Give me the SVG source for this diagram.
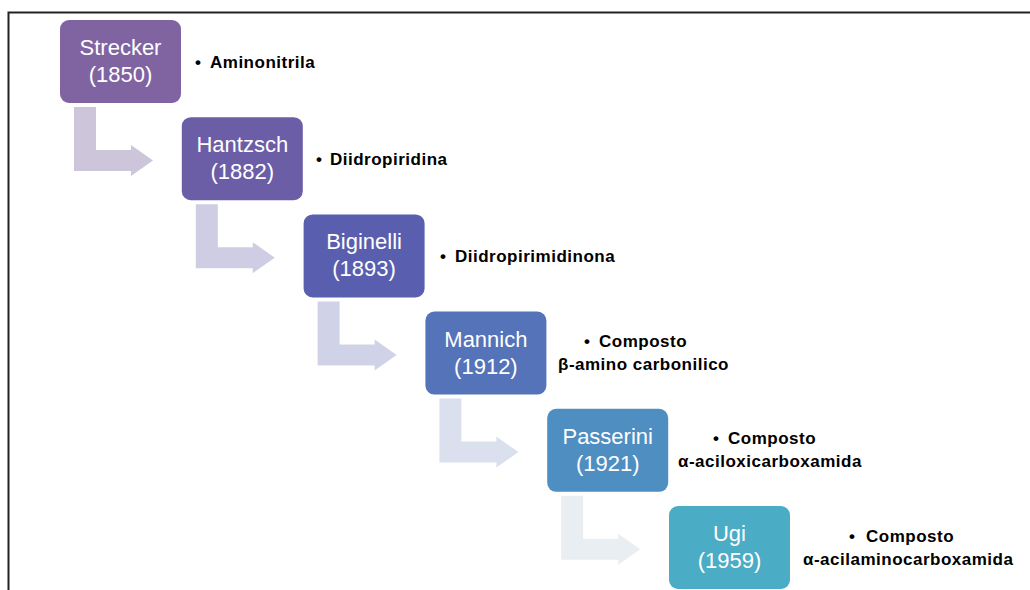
<svg xmlns="http://www.w3.org/2000/svg" width="1030" height="590" viewBox="0 0 1030 590">
<style>
.box{stroke:none}
.lbl{font-family:"Liberation Sans",Arial,sans-serif;font-size:22px;fill:#fff;text-anchor:middle}
.side{font-family:"Liberation Sans",Arial,sans-serif;font-size:17px;font-weight:bold;fill:#000;letter-spacing:0.5px}
.arr{stroke:none}
</style>
<defs>
<path id="bent" d="M74,107 H96 V150 H131 V145 L153,160.5 L131,176 V171 H74 Z"/>
</defs>
<rect x="0" y="0" width="1030" height="590" fill="#fff"/>
<path d="M8.5,590 V12.5 H1030" fill="none" stroke="#222" stroke-width="2"/>
<g id="connectors">
<use href="#bent" fill="#CDC6DB"/>
<use href="#bent" fill="#CFCDE3" transform="translate(121.8,97.2)"/>
<use href="#bent" fill="#D0D3E8" transform="translate(243.6,194.4)"/>
<use href="#bent" fill="#DAE0ED" transform="translate(365.4,291.6)"/>
<use href="#bent" fill="#E8EEF2" transform="translate(487.2,388.8)"/>
</g>
<g id="strecker">
<rect class="box" x="60" y="20" width="121" height="83" rx="9" fill="#8064A2"/>
<text class="lbl" x="120.5" y="55">Strecker</text>
<text class="lbl" x="120.5" y="82">(1850)</text>
<text class="side" y="68"><tspan x="195">•</tspan><tspan x="210">Aminonitrila</tspan></text>
</g>
<g id="hantzsch">
<rect class="box" x="181.8" y="117.2" width="121" height="83" rx="9" fill="#6B5DA6"/>
<text class="lbl" x="242.3" y="152.2">Hantzsch</text>
<text class="lbl" x="242.3" y="179.2">(1882)</text>
<text class="side" y="165"><tspan x="316">•</tspan><tspan x="330">Diidropiridina</tspan></text>
</g>
<g id="biginelli">
<rect class="box" x="303.6" y="214.4" width="121" height="83" rx="9" fill="#5A5EAE"/>
<text class="lbl" x="364.1" y="249.4">Biginelli</text>
<text class="lbl" x="364.1" y="276.4">(1893)</text>
<text class="side" y="262"><tspan x="440">•</tspan><tspan x="455">Diidropirimidinona</tspan></text>
</g>
<g id="mannich">
<rect class="box" x="425.4" y="311.6" width="121" height="83" rx="9" fill="#5573B8"/>
<text class="lbl" x="485.9" y="346.6">Mannich</text>
<text class="lbl" x="485.9" y="373.6">(1912)</text>
<text class="side" y="347"><tspan x="584">•</tspan><tspan x="599">Composto</tspan></text>
<text class="side" x="558" y="370">β-amino carbonilico</text>
</g>
<g id="passerini">
<rect class="box" x="547.2" y="408.8" width="121" height="83" rx="9" fill="#4F8EC1"/>
<text class="lbl" x="607.7" y="443.8">Passerini</text>
<text class="lbl" x="607.7" y="470.8">(1921)</text>
<text class="side" y="444"><tspan x="713">•</tspan><tspan x="728">Composto</tspan></text>
<text class="side" x="678" y="467">α-aciloxicarboxamida</text>
</g>
<g id="ugi">
<rect class="box" x="669" y="506" width="121" height="83" rx="9" fill="#4BACC6"/>
<text class="lbl" x="729.5" y="541">Ugi</text>
<text class="lbl" x="729.5" y="568">(1959)</text>
<text class="side" y="542"><tspan x="849">•</tspan><tspan x="866">Composto</tspan></text>
<text class="side" x="803" y="565">α-acilaminocarboxamida</text>
</g>
</svg>
